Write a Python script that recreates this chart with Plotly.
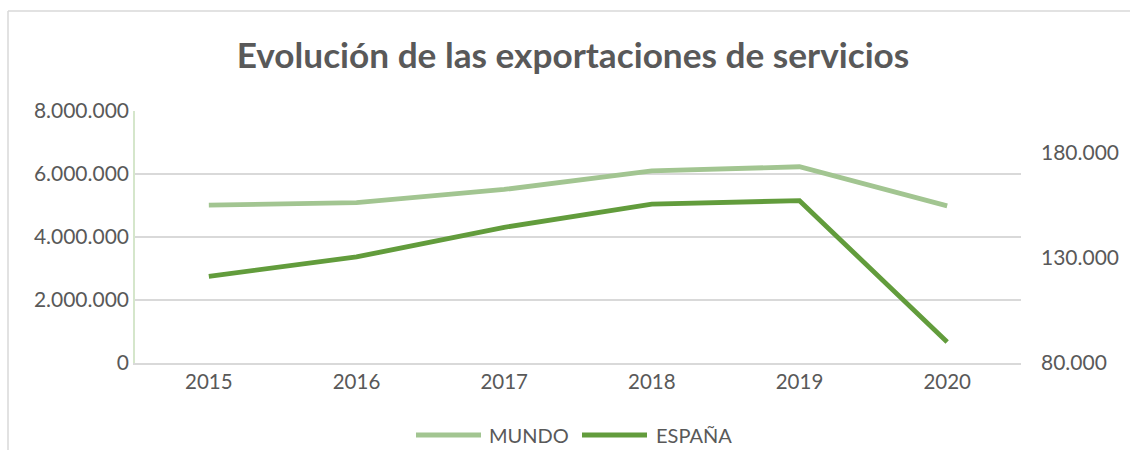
import plotly.graph_objects as go

years = ["2015", "2016", "2017", "2018", "2019", "2020"]
mundo = [5010000, 5090000, 5510000, 6100000, 6230000, 4990000]
espana = [121300, 130500, 144600, 155700, 157300, 90000]

left_ticks = [0, 2000000, 4000000, 6000000, 8000000]
left_labels = ["0", "2.000.000", "4.000.000", "6.000.000", "8.000.000"]
right_ticks = [80000, 130000, 180000]
right_labels = ["80.000", "130.000", "180.000"]

series_names = ["MUNDO", "ESPAÑA"]
series_colors = ["#A2C591", "#629C3C"]

FONT = "Lato"
GRAY = "#595959"
GRID = "#D9D9D9"

fig = go.Figure()
fig.add_trace(go.Scatter(x=years, y=mundo, name=series_names[0], mode="lines",
                         line=dict(color=series_colors[0], width=4.8), showlegend=False))
fig.add_trace(go.Scatter(x=years, y=espana, name=series_names[1], mode="lines",
                         line=dict(color=series_colors[1], width=4.8), yaxis="y2",
                         showlegend=False))

W, H = 1130, 450
ml, mr, mt, mb = 135, 109, 111, 87
pw, ph = W - ml - mr, H - mt - mb
bx = (8 - ml) / pw
by = (H - mb - 11) / ph


def px_x(v):
    return (v - ml) / pw


def px_y(v):
    return (H - mb - v) / ph


# custom legend (line sample + label), positioned in pixels
leg_y = px_y(435)
leg_items = [(416, 481, 487), (582, 647, 654)]
shapes = [
    dict(type="line", xref="paper", yref="paper", x0=bx, x1=bx, y0=-0.6, y1=by,
         line=dict(color=GRID, width=1.5)),
    dict(type="line", xref="paper", yref="paper", x0=bx, x1=1.3, y0=by, y1=by,
         line=dict(color=GRID, width=1.5)),
]
annotations = []
for (a, b, t), name, col in zip(leg_items, series_names, series_colors):
    shapes.append(dict(type="line", xref="paper", yref="paper",
                       x0=px_x(a), x1=px_x(b), y0=leg_y, y1=leg_y,
                       line=dict(color=col, width=4.8)))
    annotations.append(dict(text=name, xref="paper", yref="paper", x=px_x(t),
                            y=leg_y, xanchor="left", yanchor="middle",
                            showarrow=False, font=dict(size=20, color=GRAY)))

fig.update_layout(
    width=W, height=H,
    margin=dict(l=ml, r=mr, t=mt, b=mb),
    paper_bgcolor="white", plot_bgcolor="white",
    font=dict(family=FONT, color=GRAY, size=20),
    title=dict(text="<b>Evolución de las exportaciones de servicios</b>",
               x=573 / W, xref="container", xanchor="center",
               y=1 - 56 / H, yref="container", yanchor="middle",
               font=dict(family=FONT, size=35.2, color=GRAY)),
    xaxis=dict(type="category", range=[-0.5, 5.5], showgrid=False,
               showline=True, linecolor=GRID, linewidth=1.5, ticks="",
               tickfont=dict(size=20.5, color=GRAY), zeroline=False),
    yaxis=dict(range=[0, 8000000], tickvals=left_ticks, ticktext=left_labels,
               showgrid=True, gridcolor=GRID, gridwidth=1.5,
               showline=True, linecolor="#D5E6CB", linewidth=1.5,
               zeroline=False, ticks="", tickfont=dict(size=21, color=GRAY)),
    yaxis2=dict(range=[80000, 200000], tickvals=right_ticks, ticktext=right_labels,
                overlaying="y", side="right", showgrid=False, showline=False,
                zeroline=False, ticks="", ticklabelstandoff=19,
                tickfont=dict(size=21, color=GRAY)),
    showlegend=False,
    shapes=shapes,
    annotations=annotations,
)

fig.write_html("out.html", config={"displayModeBar": False},
               post_script="document.body.style.margin='0';")
